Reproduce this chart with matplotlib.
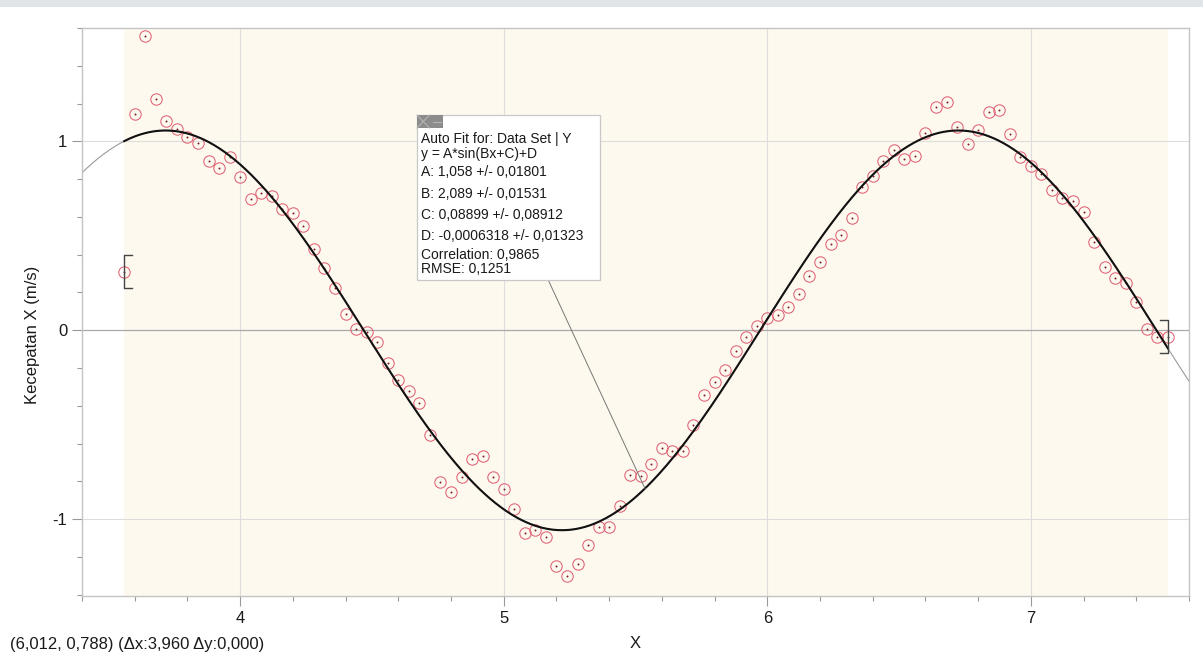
import matplotlib
matplotlib.use("Agg")
import matplotlib.pyplot as plt
import numpy as np
from matplotlib.patches import Rectangle
from matplotlib.ticker import MultipleLocator, FixedLocator

plt.rcParams['font.family'] = ['Liberation Sans', 'DejaVu Sans']
plt.rcParams['axes.unicode_minus'] = False

# ---- data ----
x_values = [3.56, 3.60, 3.64, 3.68, 3.72, 3.76, 3.80, 3.84, 3.88, 3.92,
            3.96, 4.00, 4.04, 4.08, 4.12, 4.16, 4.20, 4.24, 4.28, 4.32,
            4.36, 4.40, 4.44, 4.48, 4.52, 4.56, 4.60, 4.64, 4.68, 4.72,
            4.76, 4.80, 4.84, 4.88, 4.92, 4.96, 5.00, 5.04, 5.08, 5.12,
            5.16, 5.20, 5.24, 5.28, 5.32, 5.36, 5.40, 5.44, 5.48, 5.52,
            5.56, 5.60, 5.64, 5.68, 5.72, 5.76, 5.80, 5.84, 5.88, 5.92,
            5.96, 6.00, 6.04, 6.08, 6.12, 6.16, 6.20, 6.24, 6.28, 6.32,
            6.36, 6.40, 6.44, 6.48, 6.52, 6.56, 6.60, 6.64, 6.68, 6.72,
            6.76, 6.80, 6.84, 6.88, 6.92, 6.96, 7.00, 7.04, 7.08, 7.12,
            7.16, 7.20, 7.24, 7.28, 7.32, 7.36, 7.40, 7.44, 7.48, 7.52]
y_values = [0.309, 1.143, 1.557, 1.226, 1.109, 1.063, 1.023, 0.989, 0.898, 0.861,
            0.917, 0.811, 0.693, 0.728, 0.711, 0.640, 0.623, 0.552, 0.432, 0.332,
            0.226, 0.086, 0.004, -0.012, -0.062, -0.175, -0.265, -0.321, -0.383, -0.557,
            -0.806, -0.857, -0.776, -0.684, -0.668, -0.776, -0.841, -0.947, -1.076, -1.055,
            -1.093, -1.247, -1.300, -1.235, -1.139, -1.042, -1.042, -0.931, -0.769, -0.771,
            -0.709, -0.623, -0.637, -0.638, -0.503, -0.342, -0.272, -0.208, -0.111, -0.034,
            0.025, 0.065, 0.079, 0.122, 0.192, 0.286, 0.361, 0.455, 0.504, 0.593,
            0.758, 0.818, 0.896, 0.952, 0.907, 0.921, 1.044, 1.180, 1.206, 1.074,
            0.988, 1.058, 1.153, 1.164, 1.039, 0.917, 0.871, 0.825, 0.744, 0.702,
            0.686, 0.624, 0.466, 0.335, 0.277, 0.249, 0.148, 0.004, -0.037, -0.035]

# fit parameters (shown in the box)
fit_A, fit_B, fit_C, fit_D = 1.058, 2.089, 0.08899, -0.0006318

x_ticks = [4, 5, 6, 7]
y_ticks = [-1, 0, 1]
x_tick_labels = ["4", "5", "6", "7"]
y_tick_labels = ["-1", "0", "1"]

box_lines = ["Auto Fit for: Data Set | Y",
             "y = A*sin(Bx+C)+D",
             "A: 1,058 +/- 0,01801",
             "B: 2,089 +/- 0,01531",
             "C: 0,08899 +/- 0,08912",
             "D: -0,0006318 +/- 0,01323",
             "Correlation: 0,9865",
             "RMSE: 0,1251"]
status_text = "(6,012, 0,788) (\u0394x:3,960 \u0394y:0,000)"


def fit(x):
    return fit_A * np.sin(fit_B * np.asarray(x) + fit_C) + fit_D


W, H = 1203, 662
fig = plt.figure(figsize=(W / 100, H / 100), dpi=100)
fig.patch.set_facecolor('white')
# top grey band
fig.patches.append(Rectangle((0, 1 - 7 / H), 1, 7 / H, transform=fig.transFigure,
                             facecolor='#e1e4e8', edgecolor='none', zorder=0))

L, R, T, B = 82, 1189, 28, 596
ax = fig.add_axes([L / W, 1 - B / H, (R - L) / W, (B - T) / H])
xmin, xmax = 3.4, 7.6
ymin, ymax = -1.407, 1.6
ax.set_xlim(xmin, xmax)
ax.set_ylim(ymin, ymax)
ax.set_facecolor('white')

# shaded selected region
x_first, x_last = x_values[0], x_values[-1]
ax.axvspan(x_first, x_last, color='#fdf9ee', zorder=0, lw=0)

# grid
for xv in x_ticks:
    ax.axvline(xv, color='#dddddd', lw=0.8, zorder=1)
for yv in y_ticks:
    ax.axhline(yv, color='#a9a9a9' if yv == 0 else '#dddddd', lw=0.9 if yv == 0 else 0.8, zorder=1)

# fit curves
xf = np.linspace(xmin, xmax, 800)
ax.plot(xf, fit(xf), color='#9a9a9a', lw=0.8, zorder=2)
xs = np.linspace(x_first, x_last, 800)
ax.plot(xs, fit(xs), color='#111111', lw=1.5, zorder=4)

# data points
ax.plot(x_values, y_values, ls='none', marker='o', ms=8.2, mfc='none',
        mec='#e06275', mew=0.75, zorder=3)
ax.plot(x_values, y_values, ls='none', marker='o', ms=1.4, mfc='#7a1a2a',
        mec='none', zorder=3)

# region brackets
bdx, bh = 0.029, 0.087
x0, y0 = x_values[0], y_values[0]
ax.plot([x0 + bdx, x0, x0, x0 + bdx], [y0 + bh, y0 + bh, y0 - bh, y0 - bh],
        color='#444444', lw=1.0, zorder=5)
x1, y1 = x_values[-1], y_values[-1]
ax.plot([x1 - bdx, x1, x1, x1 - bdx], [y1 + bh, y1 + bh, y1 - bh, y1 - bh],
        color='#444444', lw=1.0, zorder=5)

# spines and ticks
for s in ax.spines.values():
    s.set_color('#c4c4c4')
    s.set_linewidth(1.0)
ax.xaxis.set_major_locator(FixedLocator(x_ticks))
ax.yaxis.set_major_locator(FixedLocator(y_ticks))
ax.set_xticklabels(x_tick_labels)
ax.set_yticklabels(y_tick_labels)
ax.xaxis.set_minor_locator(MultipleLocator(0.2))
ax.yaxis.set_minor_locator(MultipleLocator(0.2))
ax.tick_params(which='major', direction='out', length=7.5, width=0.8, color='#999999',
               labelsize=12, labelcolor='#1a1a1a', pad=3)
ax.tick_params(which='minor', direction='out', length=3.8, width=0.8, color='#999999')

ax.set_xlabel('X', fontsize=12, color='#1a1a1a')
ax.xaxis.set_label_coords(0.5, -(643 - B) / (B - T))
ax.xaxis.label.set_va('center')
ax.set_ylabel('Kecepatan X (m/s)', fontsize=12, color='#1a1a1a')
ax.yaxis.set_label_coords(-(L - 33) / (R - L), (B - 335) / (B - T))
ax.yaxis.label.set_va('center')

# ---- annotation box (pixel geometry -> data) ----
def px2data(px, py):
    fx = (px - L) / (R - L)
    fy = (B - py) / (B - T)
    return xmin + fx * (xmax - xmin), ymin + fy * (ymax - ymin)

bx0, by0 = px2data(417, 279.5)
bx1, by1 = px2data(600, 115)
# leader line
lx0, ly0 = px2data(548, 279.5)
lx1 = 5.536
ax.plot([lx0, lx1], [ly0, fit(lx1)], color='#777777', lw=0.7, zorder=6)
ax.add_patch(Rectangle((bx0, by0), bx1 - bx0, by1 - by0, facecolor='white',
                       edgecolor='#c8c8c8', lw=0.9, zorder=7))
# small icons
ix0, iy0 = px2data(417, 128)
ix1, iy1 = px2data(429.5, 115)
ax.add_patch(Rectangle((ix0, iy0), ix1 - ix0, iy1 - iy0, facecolor='#8c8c8c', edgecolor='none', zorder=8))
ax.plot([ix0, ix1], [iy0, iy1], color='#b5b5b5', lw=0.8, zorder=9)
ax.plot([ix0, ix1], [iy1, iy0], color='#b5b5b5', lw=0.8, zorder=9)
jx0, jy0 = px2data(430.5, 128)
jx1, jy1 = px2data(443, 115)
ax.add_patch(Rectangle((jx0, jy0), jx1 - jx0, jy1 - jy0, facecolor='#8c8c8c', edgecolor='none', zorder=8))
mx0, my = px2data(432.5, 121.5)
mx1, _ = px2data(441, 121.5)
ax.plot([mx0, mx1], [my, my], color='#b5b5b5', lw=0.8, zorder=9)

line_centers = [138.5, 153.5, 172.5, 193.5, 215, 236, 255, 268.5]
for txt, cy in zip(box_lines, line_centers):
    tx, ty = px2data(421, cy)
    ax.text(tx, ty, txt, fontsize=10, color='#1a1a1a', ha='left', va='center', zorder=10)

fig.text(10 / W, 1 - 645 / H, status_text, fontsize=12, color='#1a1a1a',
         ha='left', va='center')

fig.savefig('out.png', dpi=100)
